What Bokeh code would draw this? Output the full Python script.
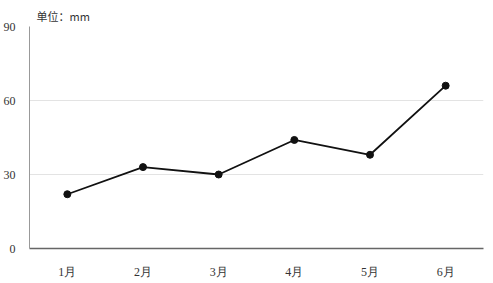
from bokeh.plotting import figure
from bokeh.models import FixedTicker, Range1d
from bokeh.embed import file_html
from bokeh.resources import INLINE

months = ["1月", "2月", "3月", "4月", "5月", "6月"]
values = [22, 33, 30, 44, 38, 66]
yticks = [0, 30, 60, 90]

p = figure(width=493, height=283, x_range=months, y_range=Range1d(0, 90),
           output_backend="svg", toolbar_location=None,
           min_border_left=29, min_border_right=10, min_border_top=26, min_border_bottom=35)

p.title.text = "单位：mm"
p.title.align = "left"
p.title.offset = 7
p.title.text_font = "Noto Sans CJK SC"
p.title.text_font_size = "11px"
p.title.text_font_style = "normal"
p.title.text_color = "#333333"
p.title.standoff = 6

p.line(months, values, line_color="#111111", line_width=1.8)
p.scatter(months, values, size=7, color="#111111")

p.outline_line_color = None
p.xgrid.grid_line_color = None
p.ygrid.grid_line_color = "#e3e3e3"
p.ygrid.grid_line_width = 1

p.yaxis.ticker = FixedTicker(ticks=yticks)
for ax in (p.xaxis, p.yaxis):
    ax.major_tick_line_color = None
    ax.minor_tick_line_color = None
    ax.major_label_text_font = "Liberation Serif"
    ax.major_label_text_font_size = "12px"
    ax.major_label_text_color = "#333333"
p.yaxis.axis_line_color = "#999999"
p.xaxis.axis_line_color = "#666666"
p.xaxis.axis_line_width = 1.5
p.yaxis.major_label_standoff = 8
p.xaxis.major_label_standoff = 10
p.x_range.range_padding = 0

open("out.html", "w").write(file_html(p, INLINE))
